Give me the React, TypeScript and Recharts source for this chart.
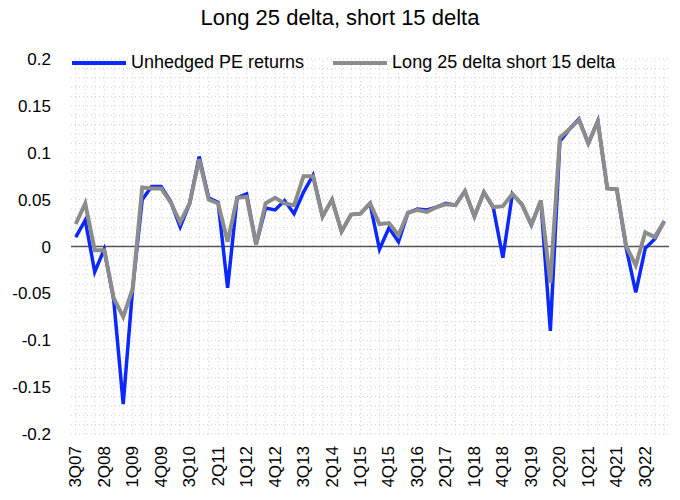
import {
  Legend,
  Line,
  LineChart,
  ReferenceLine,
  XAxis,
  YAxis,
} from "recharts";

const quarters = [
  "3Q07", "4Q07", "1Q08", "2Q08", "3Q08", "4Q08", "1Q09", "2Q09", "3Q09", "4Q09",
  "1Q10", "2Q10", "3Q10", "4Q10", "1Q11", "2Q11", "3Q11", "4Q11", "1Q12", "2Q12",
  "3Q12", "4Q12", "1Q13", "2Q13", "3Q13", "4Q13", "1Q14", "2Q14", "3Q14", "4Q14",
  "1Q15", "2Q15", "3Q15", "4Q15", "1Q16", "2Q16", "3Q16", "4Q16", "1Q17", "2Q17",
  "3Q17", "4Q17", "1Q18", "2Q18", "3Q18", "4Q18", "1Q19", "2Q19", "3Q19", "4Q19",
  "1Q20", "2Q20", "3Q20", "4Q20", "1Q21", "2Q21", "3Q21", "4Q21", "1Q22", "2Q22",
  "3Q22", "4Q22", "1Q23",
];

const unhedged = [
  0.01, 0.028, -0.027, -0.003, -0.057, -0.168, -0.044, 0.05, 0.064, 0.064,
  0.048, 0.021, 0.046, 0.096, 0.052, 0.047, -0.044, 0.052, 0.056, 0.002,
  0.041, 0.039, 0.049, 0.035, 0.058, 0.076, 0.032, 0.05, 0.016, 0.034,
  0.035, 0.046, -0.003, 0.02, 0.005, 0.036, 0.04, 0.039, 0.042, 0.046,
  0.044, 0.059, 0.032, 0.058, 0.041, -0.012, 0.056, 0.045, 0.023, 0.049,
  -0.09, 0.112, 0.125, 0.136, 0.11, 0.134, 0.062, 0.061, -0.002, -0.049,
  -0.002, 0.008, 0.027,
];

const hedged = [
  0.024, 0.046, -0.004, -0.004, -0.055, -0.075, -0.045, 0.063, 0.062, 0.062,
  0.047, 0.026, 0.046, 0.093, 0.05, 0.046, 0.005, 0.052, 0.053, 0.002,
  0.046, 0.052, 0.046, 0.044, 0.075, 0.075, 0.032, 0.05, 0.016, 0.034,
  0.035, 0.046, 0.024, 0.025, 0.012, 0.036, 0.039, 0.037, 0.042, 0.045,
  0.044, 0.059, 0.032, 0.058, 0.042, 0.043, 0.056, 0.045, 0.023, 0.049,
  -0.039, 0.116, 0.125, 0.135, 0.11, 0.133, 0.062, 0.061, 0, -0.02,
  0.015, 0.01, 0.027,
];

const seriesNames = ["Unhedged PE returns", "Long 25 delta short 15 delta"];

const yTicks = [-0.2, -0.15, -0.1, -0.05, 0, 0.05, 0.1, 0.15, 0.2];

// minor horizontal grid every 0.01
const gridValues: number[] = [];
for (let k = -20; k <= 20; k++) gridValues.push(k / 100);

const data = quarters.map((q, i) => ({
  q,
  unhedged: unhedged[i],
  hedged: hedged[i],
}));

const font = "'Liberation Sans', Arial, sans-serif";
const gridColor = "#cfcfcf";

const QuarterTick = (props: any) => {
  const { x, y, payload } = props;
  return (
    <text
      x={x}
      y={y}
      transform={`rotate(-90 ${x} ${y})`}
      textAnchor="end"
      dominantBaseline="central"
      fontSize={17}
      fontFamily={font}
      fill="#000"
    >
      {payload.value}
    </text>
  );
};

const LegendRow = (props: any) => {
  const items = [...(props.payload || [])].sort(
    (a: any, b: any) => seriesNames.indexOf(a.value) - seriesNames.indexOf(b.value)
  );
  return (
    <div style={{ display: "flex", alignItems: "center", fontFamily: font, fontSize: 18 }}>
      {items.map((p: any) => (
        <div key={p.value} style={{ display: "flex", alignItems: "center", marginRight: 29 }}>
          <span
            style={{
              display: "inline-block",
              width: 54,
              height: 4,
              background: p.color,
              marginRight: 5,
            }}
          />
          <span style={{ color: "#000" }}>{p.value}</span>
        </div>
      ))}
    </div>
  );
};

export default function App() {
  return (
    <div style={{ position: "absolute", left: 0, top: 0, width: 680, height: 500, background: "#fff" }}>
      <div
        style={{
          position: "absolute",
          top: 5,
          width: 680,
          textAlign: "center",
          fontFamily: font,
          fontSize: 22,
          color: "#000",
        }}
      >
        Long 25 delta, short 15 delta
      </div>
      <LineChart
        width={680}
        height={500}
        data={data}
        margin={{ top: 59, right: 11, bottom: 16, left: 11 }}
      >
        <XAxis
          dataKey="q"
          interval={2}
          padding={{ left: 4.75, right: 4.75 }}
          axisLine={false}
          tickLine={false}
          tickSize={0}
          tickMargin={12}
          height={50}
          tick={<QuarterTick />}
        />
        <YAxis
          domain={[-0.2, 0.2]}
          ticks={yTicks}
          axisLine={false}
          tickLine={false}
          tickMargin={14}
          width={60}
          tick={{ fill: "#000", fontSize: 17, fontFamily: font }}
        />
        {gridValues.map((v) => (
          <ReferenceLine key={`h${v}`} y={v} stroke={gridColor} strokeDasharray="1 3" />
        ))}
        {quarters.map((q) => (
          <ReferenceLine key={`v${q}`} x={q} stroke={gridColor} strokeDasharray="1 3" />
        ))}
        <ReferenceLine y={0} stroke="#555" strokeWidth={1.5} />
        <Legend
          verticalAlign="middle"
          align="center"
          layout="horizontal"
          content={<LegendRow />}
          wrapperStyle={{ top: 52, left: 72, width: 600, height: 22 }}
        />
        <Line
          type="linear"
          dataKey="unhedged"
          name={seriesNames[0]}
          stroke="#0a28ff"
          strokeWidth={3.5}
          dot={false}
          isAnimationActive={false}
        />
        <Line
          type="linear"
          dataKey="hedged"
          name={seriesNames[1]}
          stroke="#8c8c8c"
          strokeWidth={4}
          dot={false}
          isAnimationActive={false}
        />
      </LineChart>
    </div>
  );
}
